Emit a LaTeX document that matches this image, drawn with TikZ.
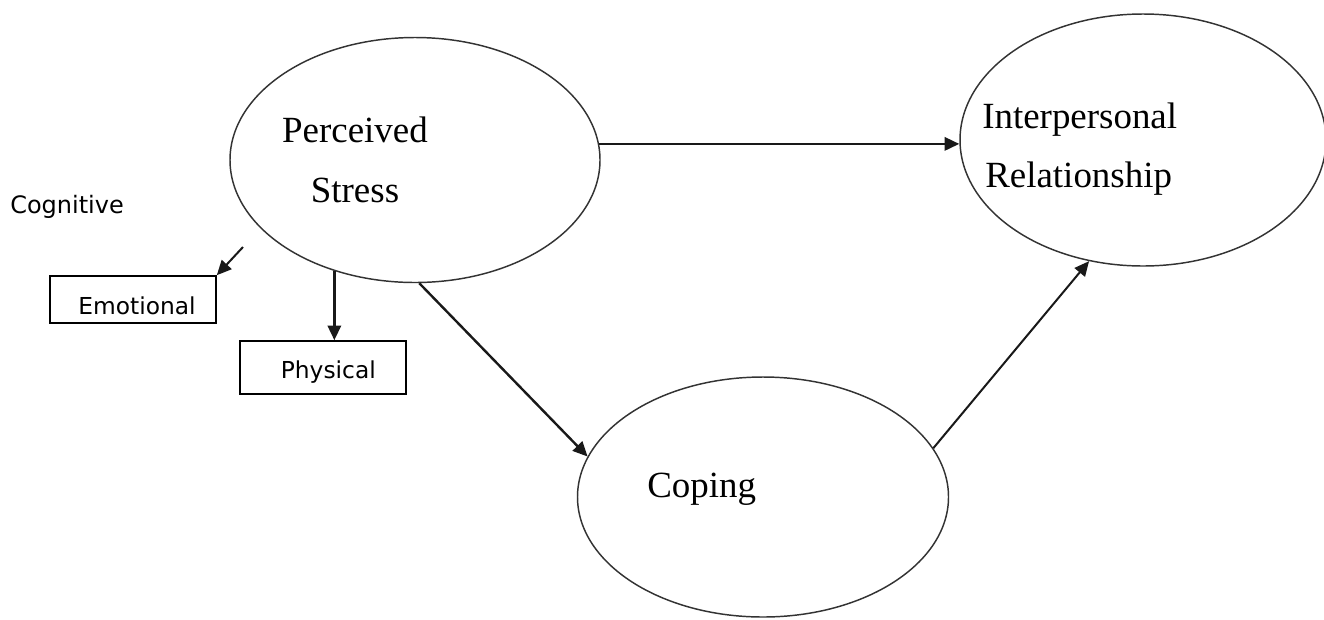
\documentclass[tikz,border=0pt]{standalone}
\usepackage{fontspec}
\setmainfont{Liberation Serif}
\newfontfamily\dimfont{DejaVu Sans}
\usepackage{tikz}
\usetikzlibrary{shapes,arrows.meta,positioning,calc}

\begin{document}
\begin{tikzpicture}[
    x=0.75pt, y=-0.75pt,
    construct/.style={ellipse, draw=black!80, line width=1.1pt, inner sep=0pt},
    concept/.style={inner sep=0pt, font=\fontsize{27.7pt}{45pt}\selectfont},
    dimension/.style={rectangle, draw, line width=1.2pt, minimum width=124.5pt, inner sep=0pt, text depth=0pt, font=\dimfont\fontsize{17.5pt}{21pt}\selectfont},
    link/.style={-{Triangle[length=11pt,width=10pt]}, line width=1.8pt, black!90},
]
\useasboundingbox (0,0) rectangle (1324,619);

% Constructs (ellipses)
\node[construct, minimum width=277.5pt, minimum height=183.75pt] (stress) at (415,160) {};
\node[construct, minimum width=274.5pt, minimum height=189pt] (interp) at (1143,140) {};
\node[construct, minimum width=278.25pt, minimum height=180pt] (coping) at (763,497) {};

% Construct labels
\node[concept, anchor=base] (perceived) at (355,142) {Perceived};
\node[concept, anchor=base] (stresstext) at (355,202) {Stress};
\node[concept, anchor=base west] (interpersonal) at (982,128) {Interpersonal};
\node[concept, anchor=base west] (relationship) at (985,187) {Relationship};
\node[concept, anchor=base west] (copingtext) at (647,497) {Coping};

% Dimensions of stress
\node[inner sep=0pt, anchor=base west, font=\dimfont\fontsize{18pt}{21pt}\selectfont] (cognitive) at (10,213) {Cognitive};
\node[dimension, minimum height=35.25pt, text height=23pt] (emotional) at (133,299.5) {\hspace*{6pt}Emotional};
\node[dimension, minimum height=39.75pt, text height=17pt] (physical) at (323,367.5) {\hspace*{8pt}Physical};

% Paths between constructs
\draw[link] (stress.5) -- (stress.5 -| interp.west);
\draw[link] (stress.-88) -- (coping.167);
\draw[link, line width=1.5pt] (coping.16) -- (interp.-114);

% Arrows to the dimensions
\coordinate (emostart) at (243,247);
\draw[link, line width=1.5pt] (emostart) -- (emotional.north east);
\draw[link] (stress.-126) -- (stress.-126 |- physical.north);
\end{tikzpicture}
\end{document}
